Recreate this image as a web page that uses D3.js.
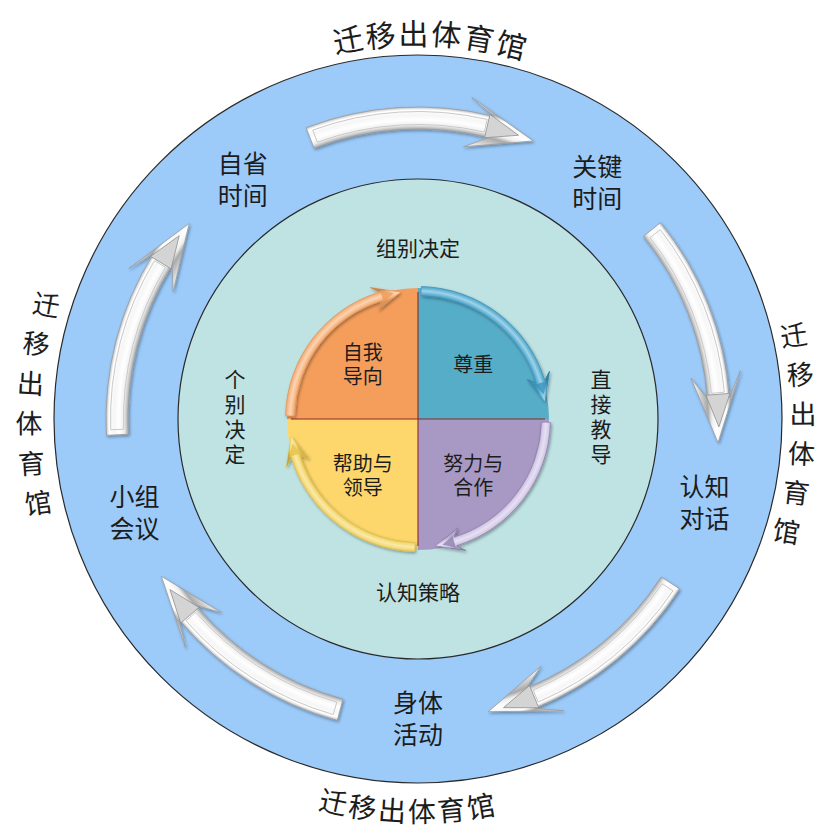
<!DOCTYPE html>
<html><head><meta charset="utf-8">
<script src="https://cdn.jsdelivr.net/npm/d3@7"></script>
<style>
body{margin:0;background:#fff;}
text{font-family:"Noto Sans CJK SC","Noto Sans",sans-serif;fill:#1c1c1c;}
</style>
</head><body>
<svg id="c" width="822" height="825"></svg>
<script>
// ---------- data ----------
const ringLabels = [["自省","时间"],["关键","时间"],["认知","对话"],["身体","活动"],["小组","会议"]];
const ringLabelAngles = [-36, 37, 106, 180, 252];
const ringArrowAngles = [0, 72, 144, 216, 288];
const innerLabels = ["组别决定","直接教导","认知策略","个别决定"];
const innerLabelAngles = [0, 90, 180, 270];
const quadrantLabels = [["尊重"],["努力与","合作"],["帮助与","领导"],["自我","导向"]];
const quadrantStarts = [0, 90, 180, 270];
const outerTitle = "迁移出体育馆";
const outerTitleSides = ["top","right","bottom","left"];
const outerTitleAngles = [2, 92, 181.5, 272.5];

// ---------- style ----------
const quadrantColors = ["#56adc8","#a899c4","#fdd76c","#f59e5c"];
const bandColors = ["#45a6cf","#cfc2e6","#f3d35a","#f7aa6c"];
const headColors = ["#3b93bd","#8e7fae","#e6c24a","#ef9a55"];

const W = 822, H = 825, cx = 418, cy = 419;
const R_OUT = 364, R_IN = 240, R_PIE = 131;
const svg = d3.select("#c");
const toRad = d3.scaleLinear().domain([0, 360]).range([0, 2*Math.PI]);
const pt = (r, deg) => [cx + r*Math.sin(toRad(deg)), cy - r*Math.cos(toRad(deg))];
const scr = deg => toRad(deg) - Math.PI/2;

const defs = svg.append("defs");
const tube = defs.append("radialGradient").attr("id","tube")
  .attr("gradientUnits","userSpaceOnUse").attr("cx",cx).attr("cy",cy).attr("r",340);
[[280,"#e6e6e6"],[290,"#a9a9a9"],[294,"#eeeeee"],[299,"#ffffff"],[304,"#f6f6f6"],[309,"#ffffff"],[313,"#a9a9a9"],[322,"#e2e2e2"]]
  .forEach(([r,c]) => tube.append("stop").attr("offset", r/340).attr("stop-color", c));
const sheen = defs.append("radialGradient").attr("id","sheen")
  .attr("gradientUnits","userSpaceOnUse").attr("cx",cx).attr("cy",cy).attr("r",150);
[[116,"#000",0.15],[122,"#000",0.12],[125,"#fff",0.15],[128,"#fff",0.5],[131,"#fff",0.15],[134,"#000",0.2],[140,"#000",0.2]]
  .forEach(([r,c,o]) => sheen.append("stop").attr("offset", r/150).attr("stop-color", c).attr("stop-opacity", o));
const sh = defs.append("filter").attr("id","shadow").attr("x","-20%").attr("y","-20%").attr("width","140%").attr("height","140%");
sh.append("feDropShadow").attr("dx",1.2).attr("dy",1.6).attr("stdDeviation",1.6).attr("flood-color","#000").attr("flood-opacity",0.35);

// ---------- discs ----------
const disc = d3.arc().innerRadius(0).startAngle(0).endAngle(2*Math.PI);
svg.append("path").attr("transform",`translate(${cx},${cy})`)
  .attr("d", disc.outerRadius(R_OUT)()).attr("fill","#9ccbfa").attr("stroke","#2a2a2a").attr("stroke-width",1.2);
svg.append("path").attr("transform",`translate(${cx},${cy})`)
  .attr("d", disc.outerRadius(R_IN)()).attr("fill","#bfe3e3").attr("stroke","#2a2a2a").attr("stroke-width",1.2);

// ---------- arrow path builders ----------
function arrowPath(r, w, a0, aBase, aTip, wing, back) {
  const p = d3.path();
  p.moveTo(...pt(r + w/2, a0));
  p.arc(cx, cy, r + w/2, scr(a0), scr(aBase), false);
  p.lineTo(...pt(r + wing, aBase - back));
  p.lineTo(...pt(r, aTip));
  p.lineTo(...pt(r - wing, aBase - back));
  p.lineTo(...pt(r - w/2, aBase));
  p.arc(cx, cy, r - w/2, scr(aBase), scr(a0), true);
  p.closePath();
  return p.toString();
}
function insetPath(r, w, a0, a1) {
  const p = d3.path();
  p.moveTo(...pt(r + w/2, a0));
  p.arc(cx, cy, r + w/2, scr(a0), scr(a1), false);
  p.lineTo(...pt(r - w/2, a1));
  p.arc(cx, cy, r - w/2, scr(a1), scr(a0), true);
  p.closePath();
  return p.toString();
}
function triPath(r, aBase, aTip, wing) {
  const p = d3.path();
  p.moveTo(...pt(r + wing, aBase)); p.lineTo(...pt(r, aTip)); p.lineTo(...pt(r - wing, aBase)); p.closePath();
  return p.toString();
}

// ---------- ring arrows ----------
const RA = 301, RW = 22;
const ringArrows = svg.append("g").selectAll("g").data(ringArrowAngles).join("g");
ringArrows.append("path")
  .attr("d", a => arrowPath(RA, RW, a - 21, a + 14, a + 22.5, 25, 4.5))
  .attr("fill","url(#tube)").attr("stroke","#9a9a9a").attr("stroke-width",0.8)
  .attr("filter","url(#shadow)");
ringArrows.append("path")
  .attr("d", a => insetPath(RA, RW - 9, a - 20, a + 13))
  .attr("fill","none").attr("stroke","#c9c9c9").attr("stroke-width",1);
ringArrows.append("path")
  .attr("d", a => triPath(RA, a + 13.3, a + 19.5, 12))
  .attr("fill","#d4d4d4").attr("stroke","#8f8f8f").attr("stroke-width",0.8);

// ---------- multi-line label helper (one text element per line) ----------
function multiLine(g, lines, x, y, size, gap) {
  lines.forEach((line, j) => {
    g.append("text").attr("x", x).attr("y", y + (j - (lines.length-1)/2) * gap)
      .attr("font-size", size).attr("text-anchor","middle").attr("dominant-baseline","central").text(line);
  });
}

// ---------- ring labels ----------
svg.append("g").selectAll("g").data(ringLabels).join("g")
  .each(function(lines, i) {
    const [x, y] = pt(298, ringLabelAngles[i]);
    multiLine(d3.select(this), lines, x, y, 25, 32);
  });

// ---------- inner labels ----------
svg.append("g").selectAll("g").data(innerLabels).join("g").each(function(label, i) {
  const a = innerLabelAngles[i];
  const g = d3.select(this);
  const vertical = (a === 90 || a === 270);
  if (!vertical) {
    const [x, y] = pt(172, a);
    multiLine(g, [label], x, y, 21, 0);
  } else {
    const [x, y] = pt(183, a);
    g.append("text").attr("x", x).attr("y", y)
      .attr("font-size", 21).attr("letter-spacing", 4)
      .style("writing-mode", "vertical-rl").attr("text-anchor", "middle")
      .attr("dominant-baseline", "central").text(label);
  }
});

// ---------- central pie ----------
const quad = d3.arc().innerRadius(0).outerRadius(R_PIE);
const pie = svg.append("g");
pie.selectAll("path.q").data(quadrantStarts).join("path").attr("class","q")
  .attr("transform",`translate(${cx},${cy})`)
  .attr("d", s => quad({startAngle: toRad(s), endAngle: toRad(s + 90)}))
  .attr("fill", (s, i) => quadrantColors[i]);
[[0,180],[90,270]].forEach(([a, b]) => {
  pie.append("line").attr("x1", pt(R_PIE - 4, a)[0]).attr("y1", pt(R_PIE - 4, a)[1])
    .attr("x2", pt(R_PIE - 4, b)[0]).attr("y2", pt(R_PIE - 4, b)[1])
    .attr("stroke","#8e2a22").attr("stroke-width",1.1);
});
const RB = 128, BW = 9;
const bands = pie.append("g").selectAll("g").data(quadrantStarts).join("g");
bands.append("path")
  .attr("d", s => arrowPath(RB, BW, s + 1.5, s + 73, s + 82, 12, 3))
  .attr("fill", (s, i) => bandColors[i]).attr("stroke", (s, i) => headColors[i]).attr("stroke-width",0.8)
  .attr("filter","url(#shadow)");
bands.append("path")
  .attr("d", s => arrowPath(RB, BW, s + 1.5, s + 73, s + 82, 12, 3))
  .attr("fill","url(#sheen)");
bands.append("path")
  .attr("d", s => triPath(RB, s + 73.6, s + 79, 6))
  .attr("fill", (s, i) => headColors[i]).attr("opacity",0.8);

pie.append("g").selectAll("g").data(quadrantLabels).join("g")
  .each(function(lines, i) {
    const [x, y] = pt(78, quadrantStarts[i] + 45);
    multiLine(d3.select(this), lines, x, y, 20, 24);
  });

// ---------- outer title text ----------
const titleChars = Array.from(outerTitle);
outerTitleSides.forEach((side, k) => {
  const c = outerTitleAngles[k];
  if (side === "top") {
    const r = 387, p = d3.path();
    p.moveTo(...pt(r, c - 40)); p.arc(cx, cy, r, scr(c - 40), scr(c + 40), false);
    defs.append("path").attr("id","tp-top").attr("d", p.toString());
    svg.append("text").attr("font-size",30).attr("letter-spacing",3).attr("dominant-baseline","central")
      .append("textPath").attr("href","#tp-top").attr("startOffset","50%").attr("text-anchor","middle").text(outerTitle);
  } else if (side === "bottom") {
    const r = 391, p = d3.path();
    p.moveTo(...pt(r, c + 40)); p.arc(cx, cy, r, scr(c + 40), scr(c - 40), true);
    defs.append("path").attr("id","tp-bot").attr("d", p.toString());
    svg.append("text").attr("font-size",28).attr("letter-spacing",1.5).attr("dominant-baseline","central")
      .append("textPath").attr("href","#tp-bot").attr("startOffset","50%").attr("text-anchor","middle").text(outerTitle);
  } else {
    const r = side === "left" ? 389 : 385, step = 5.9;
    svg.append("g").selectAll("text").data(titleChars).join("text")
      .attr("font-size",27).attr("text-anchor","middle").attr("dominant-baseline","central")
      .attr("transform", (d, j) => {
        const a = side === "left" ? c + (2.5 - j) * step : c + (j - 2.5) * step;
        const [x, y] = pt(r, a);
        const rot = side === "left" ? a - 270 : a - 90;
        return `translate(${x},${y}) rotate(${rot * 0.6})`;
      })
      .text(d => d);
  }
});
</script>
</body></html>
